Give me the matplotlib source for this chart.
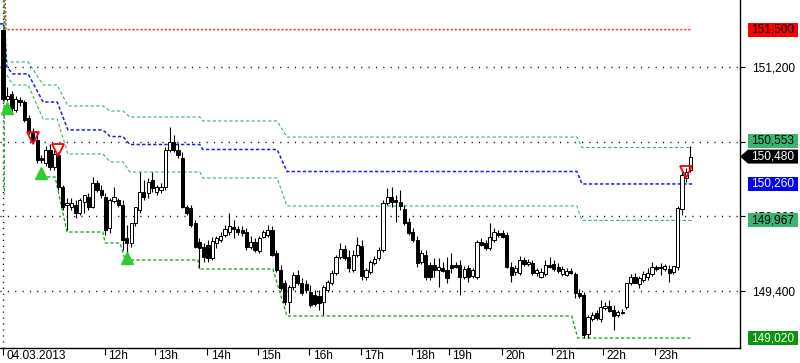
import numpy as np
import matplotlib
matplotlib.use('Agg')
import matplotlib.pyplot as plt
from matplotlib.patches import Rectangle, Polygon
from matplotlib.transforms import blended_transform_factory, ScaledTranslation

plt.rcParams['font.family'] = ['Liberation Sans', 'DejaVu Sans']
plt.rcParams['lines.scale_dashes'] = False

# 5-minute candles, 04.03.2013 10:00 .. 23:40
opens = [151497, 150943, 150983, 150854, 150935, 150919, 150790, 150670, 150613, 150468,
         150428, 150533, 150396, 150493, 150236, 150091, 150075, 150091, 150027, 150115,
         150155, 150075, 150268, 150212, 150155, 149906, 150123, 150131, 150091, 149826,
         149785, 149946, 150051, 150195, 150187, 150292, 150195, 150212, 150236, 150533,
         150597, 150533, 150468, 150075, 150067, 149946, 149794, 149753, 149769, 149665,
         149786, 149810, 149850, 149874, 149914, 149898, 149890, 149874, 149753, 149794,
         149721, 149834, 149850, 149890, 149705, 149568, 149464, 149312, 149432, 149528,
         149464, 149456, 149392, 149368, 149360, 149312, 149408, 149464, 149544, 149673,
         149737, 149673, 149568, 149689, 149761, 149512, 149552, 149625, 149665, 149729,
         150107, 150155, 150131, 150115, 150059, 149954, 149874, 149810, 149633, 149689,
         149609, 149609, 149568, 149585, 149568, 149609, 149609, 149609, 149512, 149585,
         149520, 149512, 149794, 149786, 149745, 149810, 149866, 149866, 149850, 149593,
         149552, 149544, 149649, 149617, 149625, 149544, 149512, 149536, 149609, 149617,
         149593, 149536, 149528, 149560, 149536, 149384, 149368, 149054, 149175, 149223,
         149175, 149263, 149279, 149247, 149207, 149231, 149271, 149464, 149512, 149456,
         149488, 149512, 149536, 149593, 149593, 149577, 149577, 149552, 149593, 150059,
         150308, 150372]
highs = [151505, 151039, 151007, 150967, 150959, 150935, 150814, 150710, 150678, 150493,
         150565, 150581, 150533, 150517, 150252, 150147, 150147, 150131, 150147, 150171,
         150187, 150316, 150292, 150252, 150187, 150147, 150236, 150147, 150131, 149930,
         149850, 149986, 150356, 150292, 150308, 150356, 150252, 150268, 150557, 150718,
         150653, 150589, 150517, 150091, 150091, 149970, 149826, 149786, 149810, 149834,
         149842, 149874, 149930, 150027, 149970, 149922, 149922, 149906, 149842, 149826,
         149842, 149890, 149930, 149922, 149729, 149609, 149488, 149448, 149552, 149568,
         149504, 149488, 149448, 149408, 149408, 149448, 149488, 149568, 149689, 149786,
         149769, 149729, 149729, 149834, 149810, 149585, 149649, 149681, 149753, 150131,
         150228, 150236, 150171, 150212, 150091, 149986, 149906, 149842, 149729, 149729,
         149633, 149665, 149665, 149633, 149673, 149705, 149633, 149649, 149601, 149609,
         149585, 149810, 149826, 149810, 149946, 149906, 149890, 149890, 149874, 149633,
         149609, 149681, 149673, 149657, 149649, 149585, 149585, 149649, 149673, 149649,
         149625, 149601, 149585, 149585, 149552, 149416, 149392, 149207, 149231, 149247,
         149328, 149312, 149328, 149287, 149247, 149255, 149368, 149536, 149544, 149520,
         149560, 149585, 149633, 149609, 149625, 149617, 149609, 149601, 150083, 150372,
         150388, 150565]
lows = [150927, 150927, 150830, 150838, 150887, 150758, 150662, 150597, 150428, 150428,
        150404, 150372, 150372, 150212, 150051, 149890, 150051, 149987, 150011, 150027,
        150051, 150067, 150195, 150147, 149850, 149866, 150107, 150075, 149729, 149689,
        149753, 149922, 150027, 150131, 150147, 150195, 150171, 150187, 150212, 150517,
        150517, 150468, 150067, 150011, 149914, 149745, 149585, 149633, 149633, 149649,
        149745, 149794, 149834, 149850, 149826, 149850, 149842, 149729, 149737, 149713,
        149705, 149826, 149834, 149681, 149552, 149408, 149287, 149223, 149408, 149448,
        149368, 149384, 149271, 149279, 149247, 149207, 149392, 149448, 149528, 149657,
        149649, 149552, 149552, 149673, 149488, 149488, 149536, 149609, 149649, 149713,
        150091, 150075, 149954, 150051, 149930, 149850, 149794, 149593, 149617, 149488,
        149488, 149512, 149432, 149552, 149464, 149544, 149585, 149368, 149496, 149472,
        149504, 149496, 149761, 149729, 149729, 149794, 149834, 149826, 149585, 149472,
        149528, 149528, 149601, 149601, 149528, 149520, 149504, 149520, 149585, 149560,
        149544, 149520, 149520, 149536, 149344, 149344, 149022, 149022, 149159, 149167,
        149151, 149247, 149231, 149087, 149191, 149215, 149255, 149448, 149464, 149424,
        149472, 149488, 149520, 149560, 149528, 149560, 149472, 149536, 149568, 150011,
        150276, 150356]
closes = [150943, 150967, 150870, 150943, 150919, 150774, 150678, 150613, 150452, 150452,
          150533, 150396, 150501, 150236, 150075, 150107, 150107, 150027, 150131, 150171,
          150075, 150268, 150212, 150171, 149890, 150131, 150155, 150091, 149810, 149785,
          149946, 150075, 150195, 150155, 150276, 150228, 150236, 150236, 150533, 150597,
          150533, 150493, 150075, 150027, 149930, 149753, 149745, 149673, 149665, 149802,
          149826, 149842, 149898, 149922, 149898, 149874, 149866, 149753, 149794, 149729,
          149826, 149874, 149890, 149689, 149568, 149424, 149312, 149432, 149528, 149464,
          149384, 149408, 149287, 149295, 149303, 149432, 149472, 149544, 149673, 149737,
          149665, 149585, 149689, 149769, 149520, 149568, 149633, 149657, 149729, 150107,
          150155, 150115, 150115, 150083, 149946, 149866, 149810, 149625, 149705, 149512,
          149512, 149568, 149593, 149560, 149504, 149585, 149593, 149512, 149577, 149512,
          149568, 149794, 149769, 149745, 149834, 149874, 149850, 149834, 149593, 149528,
          149585, 149649, 149617, 149633, 149544, 149568, 149552, 149609, 149593, 149577,
          149560, 149577, 149560, 149544, 149384, 149360, 149046, 149191, 149207, 149183,
          149271, 149279, 149239, 149199, 149231, 149223, 149464, 149512, 149464, 149504,
          149536, 149544, 149593, 149577, 149585, 149601, 149544, 149601, 150067, 150332,
          150356, 150480]

# hour ticks (candle index) and labels
tick_pos = [0, 23.9, 35.6, 47.8, 59.7, 71.7, 83.8, 95.8, 104.4, 116.9, 128.6, 140.5, 152.7]
tick_lab = ['04.03.2013', '12h', '13h', '14h', '15h', '16h', '17h', '18h', '19h',
            '20h', '21h', '22h', '23h']

# channel lines: breakpoints (candle index, price)
upper_x = [0.2, 0.9, 5.9, 9.4, 12.7, 15.2, 23.4, 25.1, 28.1, 29.7, 46.1, 46.8, 64.2, 66.5, 134.4, 135.6, 161.4]
upper_y = [151750, 151240, 151240, 151055, 151055, 150887, 150887, 150846, 150846, 150798, 150798,
           150766, 150766, 150637, 150637, 150553, 150553]
mid_x = [-0.7, 0.2, 0.9, 2.3, 5.9, 9.4, 12.7, 15.2, 23.4, 25.1, 28.1, 29.7, 46.1, 46.8, 64.2, 66.5,
         134.4, 135.6, 161.4]
mid_y = [151546, 151546, 151200, 151144, 151144, 150918, 150918, 150694, 150694, 150641, 150641,
         150577, 150577, 150537, 150537, 150360, 150360, 150260, 150260]
lower_x = [0.9, 2.3, 5.9, 9.4, 12.7, 15.2, 23.4, 25.1, 28.1, 29.7, 46.1, 46.8, 64.2, 66.5, 134.4, 135.6, 161.4]
lower_y = [151136, 151055, 151055, 150782, 150782, 150501, 150501, 150437, 150437, 150356, 150356,
           150308, 150308, 150083, 150083, 149967, 149967]
stop_x = [0.25, 0.3, np.nan, 10.3, 12.2, 15.0, 23.4, 23.9, 27.4, 28.6, 45.7, 45.9, 63.2, 66.5,
          133.2, 134.6, 161.0]
stop_y = [151750, 150171, np.nan, 150316, 150316, 149874, 149874, 149786, 149786, 149649, 149649,
          149577, 149577, 149199, 149199, 149022, 149022]
top_x = [0.5, 0.7, 161.4]
top_y = [151750, 151500, 151500]

# signals
buy_idx = [1, 9, 29]
buy_px = [150870, 150346, 149665]
sell_idx = [7, 13, 160]
sell_px = [150629, 150533, 150356]

# price axis
grid_px = [151200, 150600, 150000, 149400]
grid_lab = ['151,200', '', '150,000', '149,400']   # 150,600 sits under the 150,553 tag
tag_px = [151500, 150553, 150260, 149967, 149020]
tag_lab = ['151,500', '150,553', '150,260', '149,967', '149,020']
tag_bg = ['#ff0000', '#3cb371', '#0000ff', '#3cb371', '#0a960a']
tag_fg = ['black', 'black', 'white', 'black', 'white']
last_px = 150480
last_lab = '150,480'

fig = plt.figure(figsize=(8, 3.63), dpi=100)
ax = fig.add_axes([0, 15 / 363, 740 / 800, 348 / 363])
ax.set_xlim(-0.70, 172.6)
ax.set_ylim(148942, 151738)

for p in grid_px:
    ax.axhline(p, color='black', lw=1.0, ls=(0, (0.8, 4.5)), zorder=0.5)
ax.axvline(0, color='black', lw=1.0, ls=(0, (0.8, 3.5)), zorder=0.5)

ax.plot(top_x, top_y, color='#ff3030', lw=1.1, ls=(0, (1.6, 1.3)), zorder=1)
ax.plot(upper_x, upper_y, color='#3cb371', lw=0.8, ls=(0, (2.4, 1.6)), zorder=1)
ax.plot(lower_x, lower_y, color='#3cb371', lw=0.8, ls=(0, (2.4, 1.6)), zorder=1)
ax.plot(mid_x, mid_y, color='#1a1aff', lw=1.1, ls=(0, (2.4, 1.6)), zorder=1)
ax.plot(stop_x, stop_y, color='#10a010', lw=0.9, ls=(0, (2.4, 1.6)), zorder=1)

# candles
for i in range(len(closes)):
    o, h, l, c = opens[i], highs[i], lows[i], closes[i]
    ax.plot([i, i], [l, h], color='black', lw=0.8, zorder=2, solid_capstyle='butt')
    fc = 'black' if c < o else 'white'
    ax.add_patch(Rectangle((i - 0.37, min(o, c)), 0.74, abs(c - o), facecolor=fc,
                           edgecolor='black', lw=0.7, zorder=3))

ax.plot(buy_idx, buy_px, ls='none', marker='^', ms=9, color='#2ecc2e', zorder=4)
ax.plot(sell_idx, sell_px, ls='none', marker='v', ms=9, mfc='none', mec='#ff0000', mew=1.3, zorder=4)

# axes styling
for s in ['left', 'top']:
    ax.spines[s].set_visible(False)
for s in ['right', 'bottom']:
    ax.spines[s].set_color('black')
    ax.spines[s].set_linewidth(1.0)

ax.yaxis.tick_right()
ax.set_yticks(grid_px)
ax.set_yticklabels(grid_lab)
ax.tick_params(axis='y', direction='out', length=3.6, width=0.8, pad=5, labelsize=8.6)

ax.set_xticks(tick_pos)
ax.set_xticklabels(tick_lab)
ax.tick_params(axis='x', direction='out', length=5, width=0.8, pad=-3.8, labelsize=8.6)
off = ScaledTranslation(2.5 / 72, 0, fig.dpi_scale_trans)
for t in ax.get_xticklabels():
    t.set_horizontalalignment('left')
    t.set_transform(t.get_transform() + off)

# price tags: boxes that would collide with the last-price tag are pushed away from it
tr = blended_transform_factory(ax.transAxes, ax.transData)
bx0, bx1 = 748 / 740, 798 / 740
ppx = (151738 - 148942) / 348          # price per pixel
hh = 7 * ppx
for p, lab, bg, fg in zip(tag_px, tag_lab, tag_bg, tag_fg):
    yc = p
    if abs(p - last_px) < 2 * hh:
        yc = last_px + np.sign(p - last_px) * (2 * hh + 2 * ppx)
    ax.add_patch(Rectangle((bx0, yc - hh), bx1 - bx0, 2 * hh, transform=tr, facecolor=bg,
                           edgecolor='none', clip_on=False, zorder=10))
    ax.text((bx0 + bx1) / 2, yc, lab, transform=tr, ha='center', va='center', color=fg,
            fontsize=8.6, zorder=11, clip_on=False)

ax.add_patch(Polygon([(1.0, last_px), (bx0, last_px - hh), (bx1, last_px - hh),
                      (bx1, last_px + hh), (bx0, last_px + hh)], closed=True, transform=tr,
                     facecolor='black', edgecolor='none', clip_on=False, zorder=10))
ax.text((bx0 + bx1) / 2, last_px, last_lab, transform=tr, ha='center', va='center',
        color='white', fontsize=8.6, zorder=11, clip_on=False)

fig.savefig('out.png', dpi=100, facecolor='white')
